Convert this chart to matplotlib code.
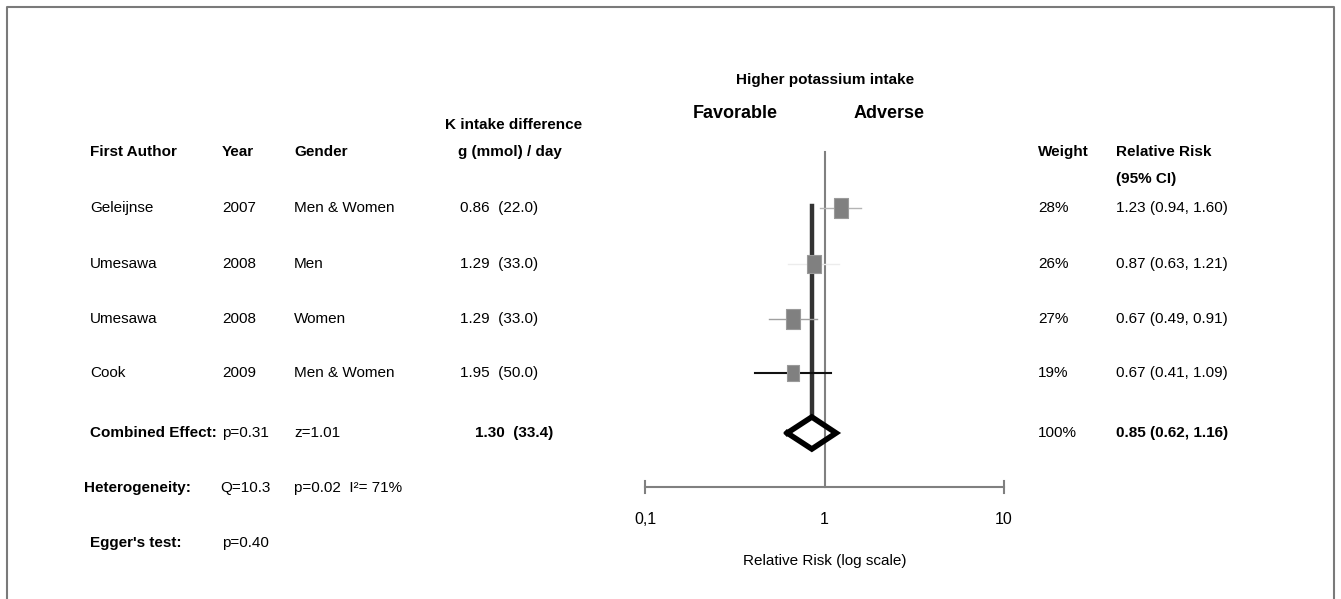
import matplotlib
matplotlib.use("Agg")
import matplotlib.pyplot as plt
import numpy as np

plt.rcParams['font.family'] = ['Liberation Sans Narrow', 'Liberation Sans', 'DejaVu Sans']

# ---- study data -------------------------------------------------------------
authors = ['Geleijnse', 'Umesawa', 'Umesawa', 'Cook']
years = ['2007', '2008', '2008', '2009']
genders = ['Men & Women', 'Men', 'Women', 'Men & Women']
k_diff_g = [0.86, 1.29, 1.29, 1.95]
k_diff_mmol = [22.0, 33.0, 33.0, 50.0]
weights = [28, 26, 27, 19]
rr = [1.23, 0.87, 0.67, 0.67]
ci_lo = [0.94, 0.63, 0.49, 0.41]
ci_hi = [1.60, 1.21, 0.91, 1.09]

# pooled estimate
pooled_rr = 0.85
pooled_lo = 0.62
pooled_hi = 1.16
pooled_g = 1.30
pooled_mmol = 33.4
pooled_p = 0.31
pooled_z = 1.01

# axis ticks
tick_vals = [0.1, 1, 10]
tick_labels = ['0,1', '1', '10']

# ---- layout (pixel rows) ----------------------------------------------------
W, H = 1341, 599
row_y = [208, 264, 319, 373]
comb_y = 433
het_y = 488
egg_y = 543
axis_y = 487
col_author, col_year, col_gender, col_k = 90, 222, 294, 499
col_weight, col_rr = 1038, 1116
ci_colors = ['#b4b4b4', '#ececec', '#a0a0a0', '#111111']
fs = 11

fig = plt.figure(figsize=(W / 100, H / 100), dpi=100)

# text layer in pixel coords
bg = fig.add_axes([0, 0, 1, 1])
bg.set_xlim(0, W)
bg.set_ylim(H, 0)
bg.axis('off')
bg.plot([7, 7, 1334, 1334], [H, 7, 7, H], color='#7a7a7a', lw=1.5)

# forest plot layer, log x
fa = fig.add_axes([645 / W, 0, (1004 - 645) / W, 1])
fa.set_xscale('log')
fa.set_xlim(0.1, 10)
fa.set_ylim(H, 0)
fa.axis('off')
fa.patch.set_alpha(0)

# headers
bold = dict(fontsize=fs, fontweight='bold', va='center')
big = dict(fontsize=13, fontweight='bold', va='center')
bg.text(825, 80, 'Higher potassium intake', ha='center', **bold)
bg.text(735, 113, 'Favorable', ha='center', **big)
bg.text(889, 113, 'Adverse', ha='center', **big)
bg.text(514, 125, 'K intake difference', ha='center', **bold)
bg.text(510, 152, 'g (mmol) / day', ha='center', **bold)
bg.text(col_author, 152, 'First Author', ha='left', **bold)
bg.text(col_year, 152, 'Year', ha='left', **bold)
bg.text(col_gender, 152, 'Gender', ha='left', **bold)
bg.text(col_weight, 152, 'Weight', ha='left', **bold)
bg.text(col_rr, 152, 'Relative Risk', ha='left', **bold)
bg.text(col_rr, 179, '(95% CI)', ha='left', **bold)

# study rows
norm = dict(fontsize=fs, va='center')
for i, y in enumerate(row_y):
    bg.text(col_author, y, authors[i], ha='left', **norm)
    bg.text(col_year, y, years[i], ha='left', **norm)
    bg.text(col_gender, y, genders[i], ha='left', **norm)
    bg.text(col_k, y, f'{k_diff_g[i]:.2f}  ({k_diff_mmol[i]:.1f})', ha='center', **norm)
    bg.text(col_weight, y, f'{weights[i]}%', ha='left', **norm)
    bg.text(col_rr, y, f'{rr[i]:.2f} ({ci_lo[i]:.2f}, {ci_hi[i]:.2f})', ha='left', **norm)

# combined / heterogeneity / egger
bg.text(col_author, comb_y, 'Combined Effect:', ha='left', **bold)
bg.text(col_year, comb_y, f'p={pooled_p:.2f}', ha='left', **norm)
bg.text(col_gender, comb_y, f'z={pooled_z:.2f}', ha='left', **norm)
bg.text(514, comb_y, f'{pooled_g:.2f}  ({pooled_mmol:.1f})', ha='center', **bold)
bg.text(col_weight, comb_y, '100%', ha='left', **norm)
bg.text(col_rr, comb_y, f'{pooled_rr:.2f} ({pooled_lo:.2f}, {pooled_hi:.2f})', ha='left', **bold)

bg.text(col_author - 6, het_y, 'Heterogeneity:', ha='left', **bold)
bg.text(col_year - 2, het_y, 'Q=10.3', ha='left', **norm)
bg.text(col_gender, het_y, 'p=0.02  I\u00b2= 71%', ha='left', **norm)

bg.text(col_author, egg_y, "Egger's test:", ha='left', **bold)
bg.text(col_year, egg_y, 'p=0.40', ha='left', **norm)

# reference line at RR = 1
fa.plot([1, 1], [152, axis_y], color='#808080', lw=1.5, zorder=1)
# pooled estimate line
fa.plot([pooled_rr, pooled_rr], [206, comb_y - 16], color='#333333', lw=3.2, zorder=2)

# confidence intervals and weighted boxes
box = [(-0.36, -0.5), (0.36, -0.5), (0.36, 0.5), (-0.36, 0.5), (-0.36, -0.5)]
for i, y in enumerate(row_y):
    fa.plot([ci_lo[i], ci_hi[i]], [y, y], color=ci_colors[i],
            lw=1.5 if i == 3 else 1.0, zorder=3)
    size_pt = 3.7 * np.sqrt(weights[i]) * 0.72
    fa.plot(rr[i], y, marker=box, markersize=size_pt, color='#808080',
            markeredgecolor='#9a9a9a', markeredgewidth=0.8, zorder=4)

# pooled diamond
dx = [pooled_lo, pooled_rr, pooled_hi, pooled_rr, pooled_lo]
dy = [comb_y, comb_y - 16, comb_y, comb_y + 16, comb_y]
fa.plot(dx, dy, color='black', lw=4, solid_joinstyle='miter', zorder=5)

# x axis
fa.plot([0.1, 10], [axis_y, axis_y], color='#808080', lw=1.5, clip_on=False)
for v in [tick_vals[0], tick_vals[-1]]:
    fa.plot([v, v], [axis_y - 6, axis_y + 6], color='#808080', lw=1.5, clip_on=False)
for v, lab in zip(tick_vals, tick_labels):
    fa.text(v, 519, lab, ha='center', va='center', fontsize=fs + 0.5, clip_on=False)
fa.text(1, 561, 'Relative Risk (log scale)', ha='center', va='center', fontsize=fs)

fig.savefig('out.png', dpi=100)
